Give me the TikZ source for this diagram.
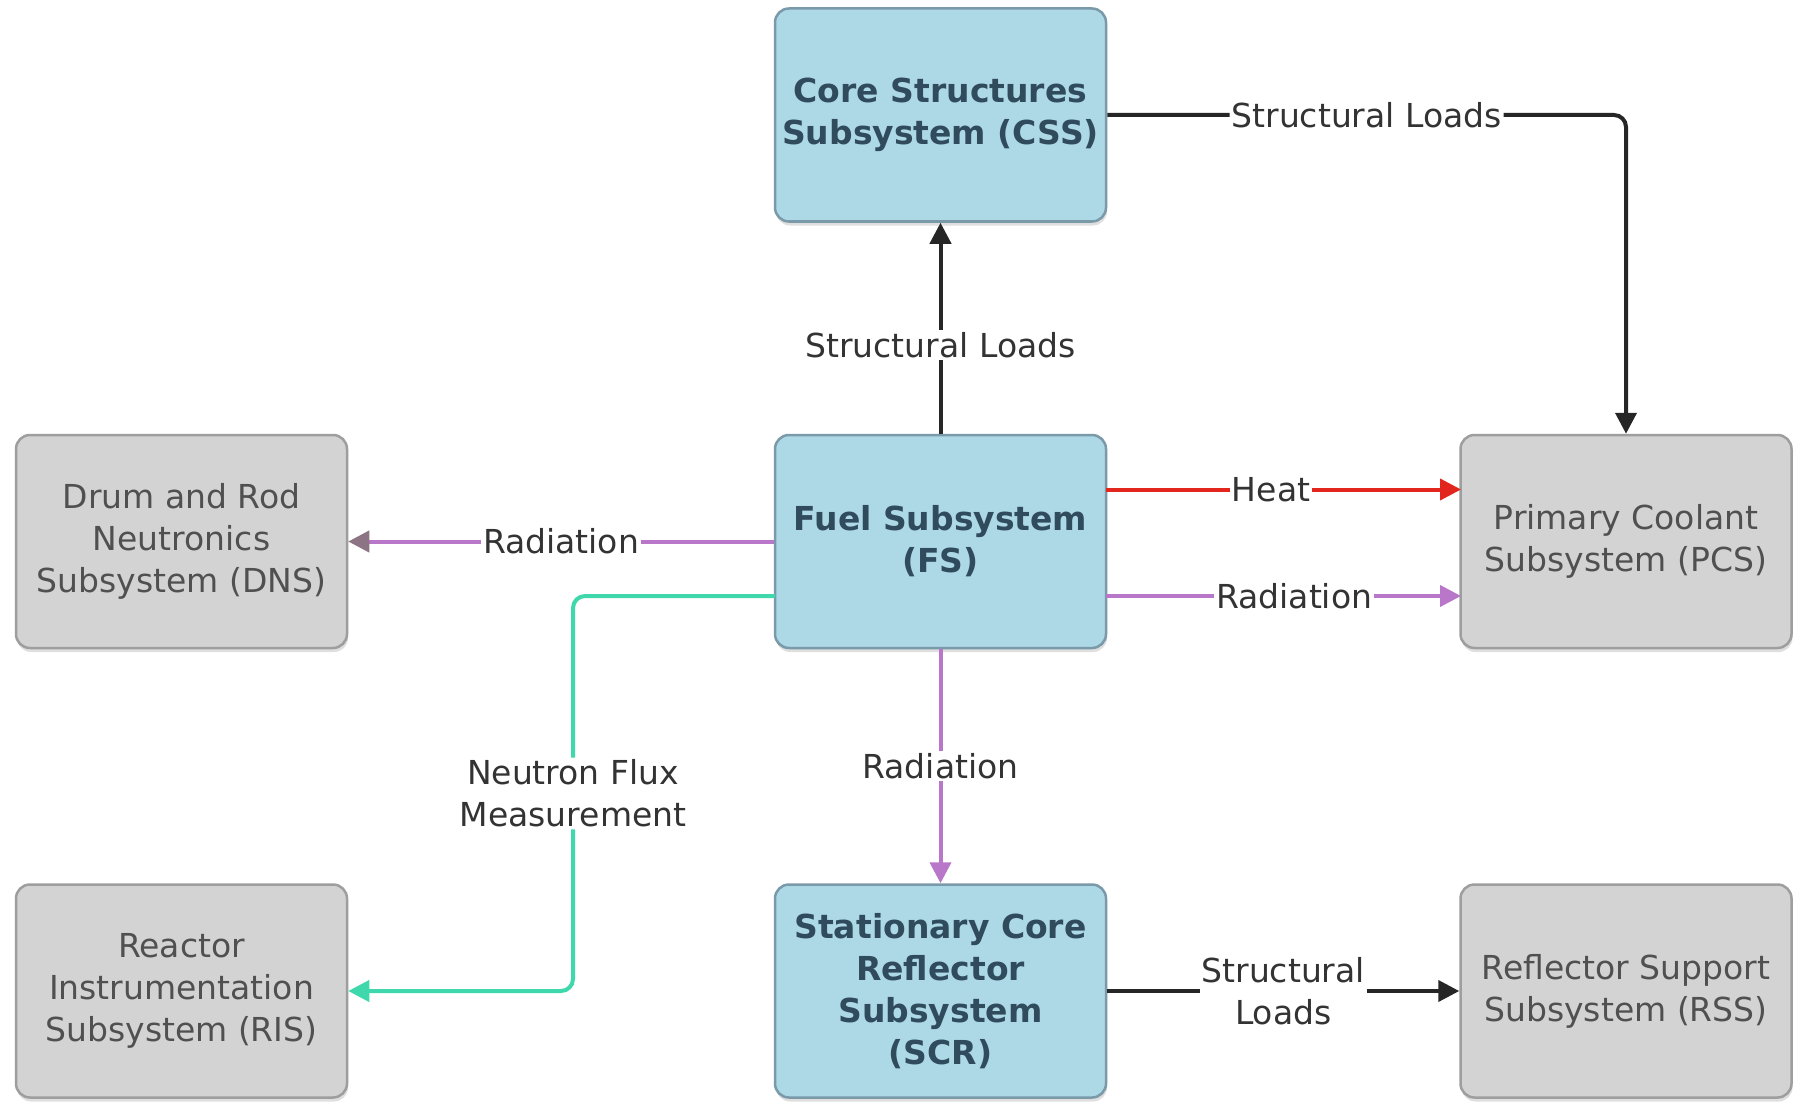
\documentclass[tikz,border=0pt]{standalone}
\usepackage{fontspec}
\setmainfont{DejaVu Sans}
\usetikzlibrary{arrows.meta,shadows}
\definecolor{bluefill}{HTML}{ADD8E6}
\definecolor{blueedge}{HTML}{7A9AA9}
\definecolor{bluetext}{HTML}{2F4B5C}
\definecolor{greyfill}{HTML}{D3D3D3}
\definecolor{greyedge}{HTML}{9E9E9E}
\definecolor{greytext}{HTML}{505050}
\definecolor{lbltext}{HTML}{333333}
\definecolor{blackline}{HTML}{262626}
\definecolor{heatred}{HTML}{E2261D}
\definecolor{radpurple}{HTML}{B877C8}
\definecolor{radhead}{HTML}{8C7484}
\definecolor{teal}{HTML}{3FD8AC}
\begin{document}
\begin{tikzpicture}[x=1pt,y=-1pt,
  box/.style={line width=2.5pt, rounded corners=14pt, minimum width=331pt,
    minimum height=213pt, align=center, inner sep=2pt,
    drop shadow={shadow xshift=1pt, shadow yshift=-4pt, opacity=0.25}},
  bluebox/.style={box, fill=bluefill, draw=blueedge, text=bluetext,
    font=\fontsize{33}{42}\selectfont\bfseries},
  greybox/.style={box, fill=greyfill, draw=greyedge, text=greytext,
    font=\fontsize{33}{42}\selectfont},
  conn/.style={line width=4pt, -{Triangle[length=21pt,width=21pt]}},
  lbl/.style={fill=white, text=lbltext, inner sep=2pt, align=center,
    font=\fontsize{33}{42}\selectfont}]
\useasboundingbox[fill=white] (0,0) rectangle (1793,1102);

\node[bluebox] (css) at (940.5,115) {Core Structures\\Subsystem (CSS)};
\node[bluebox] (fs) at (940.5,541.5) {Fuel Subsystem\\(FS)};
\node[greybox] (dns) at (181.5,541.5) {Drum and Rod\\Neutronics\\Subsystem (DNS)};
\node[greybox] (pcs) at (1626,541.5) {Primary Coolant\\Subsystem (PCS)};
\node[greybox] (ris) at (181.5,991) {Reactor\\Instrumentation\\Subsystem (RIS)};
\node[bluebox] (scr) at (940.5,991) {Stationary Core\\Reflector\\Subsystem\\(SCR)};
\node[greybox] (rss) at (1626,991) {Reflector Support\\Subsystem (RSS)};

% FS -> CSS
\draw[conn, draw=blackline] (fs.north) -- node[lbl, pos=0.42] {Structural Loads} (css.south);
% CSS -> PCS
\draw[conn, draw=blackline, rounded corners=12pt] (css.east) -| node[lbl, pos=0.25] {Structural Loads} (pcs.north);
% FS -> DNS
\draw[line width=4pt, draw=radpurple, -{Triangle[length=21pt,width=21pt,color=radhead]}]
  (fs.west) -- node[lbl] {Radiation} (dns.east);
% FS -> PCS heat
\coordinate (fsheat) at (1106,489.5);
\coordinate (pcsheat) at (1461,489.5);
\draw[conn, draw=heatred] (fsheat) -- node[lbl, pos=0.465] {Heat} (pcsheat);
% FS -> PCS radiation
\coordinate (fsrad) at (1106,596);
\coordinate (pcsrad) at (1461,596);
\draw[conn, draw=radpurple] (fsrad) -- node[lbl, pos=0.53] {Radiation} (pcsrad);
% FS -> SCR
\draw[conn, draw=radpurple] (fs.south) -- node[lbl] {Radiation} (scr.north);
% FS -> RIS
\coordinate (fsflux) at (775,596);
\coordinate (c1) at (573,596);
\coordinate (c2) at (c1 |- ris.east);
\draw[conn, draw=teal, rounded corners=12pt] (fsflux) -- (c1) -- node[lbl] {Neutron Flux\\Measurement} (c2) -- (ris.east);
% SCR -> RSS
\draw[conn, draw=blackline] (scr.east) -- node[lbl] {Structural\\Loads} (rss.west);
\end{tikzpicture}
\end{document}
